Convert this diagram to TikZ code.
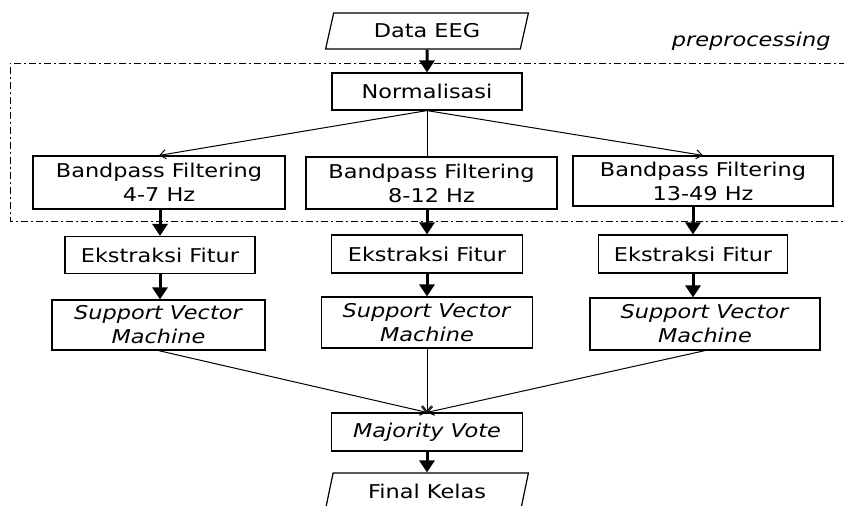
\documentclass[tikz,border=0pt]{standalone}
\usepackage{fontspec}
\setmainfont{DejaVu Sans}[FakeStretch=1.18]
\usepackage{tikz}
\usetikzlibrary{arrows.meta}
\usetikzlibrary{positioning,shapes.geometric}
\tikzset{
    box/.style={
        draw,
        rectangle,
        line width=1.2pt,
        fill=white,
        inner sep=1pt,
        align=center,
        font=\fontsize{19}{24}\selectfont
    },
    io/.style={
        draw,
        trapezium,
        trapezium left angle=74,
        trapezium right angle=106,
        trapezium stretches=true,
        line width=1.2pt,
        minimum width=203pt,
        minimum height=36pt,
        inner sep=1pt,
        font=\fontsize{19}{24}\selectfont
    },
    bigarrow/.style={
        line width=3pt,
        -{Triangle[length=12pt, width=15pt]}
    },
    thinarrow/.style={
        line width=1pt,
        -{Straight Barb[length=6pt, width=9pt]}
    }
}

\begin{document}
\begin{tikzpicture}[x=1pt, y=-1pt]
    \useasboundingbox (0,0) rectangle (844,506);

    % Preprocessing frame
    \draw[line width=1pt, dash pattern=on 7pt off 3pt on 2pt off 3pt] (846,63) -| (10,221) -- (846,221);
    \node[font=\fontsize{19}{24}\selectfont\itshape, anchor=east] (pre) at (834,41) {preprocessing};

    % Nodes
    \node[io] (data) at (427,31) {Data EEG};
    \node[box, minimum width=190pt, minimum height=37pt] (norm) at (427,91.5) {Normalisasi};

    \node[box, minimum width=252pt, minimum height=53pt] (bpA) at (159,182.5) {Bandpass Filtering\\4-7 Hz};
    \node[box, minimum width=251pt, minimum height=52pt] (bpB) at (431.5,183) {Bandpass Filtering\\8-12 Hz};
    \node[box, minimum width=260pt, minimum height=50pt] (bpC) at (703,181) {Bandpass Filtering\\13-49 Hz};

    \node[box, minimum width=190pt, minimum height=37pt] (ekA) at (160,255) {Ekstraksi Fitur};
    \node[box, minimum width=191pt, minimum height=38pt] (ekB) at (427,254) {Ekstraksi Fitur};
    \node[box, minimum width=189pt, minimum height=38pt] (ekC) at (693,254) {Ekstraksi Fitur};

    \node[box, minimum width=213pt, minimum height=50pt] (svA) at (158.5,325) {\textit{Support Vector}\\\textit{Machine}};
    \node[box, minimum width=211pt, minimum height=51pt] (svB) at (427,322.5) {\textit{Support Vector}\\\textit{Machine}};
    \node[box, minimum width=230pt, minimum height=52pt] (svC) at (705,324) {\textit{Support Vector}\\\textit{Machine}};

    \node[box, minimum width=191pt, minimum height=38pt] (vote) at (427,432) {\textit{Majority Vote}};
    \node[io] (final) at (427,491) {Final Kelas};

    % Edges
    \draw[bigarrow] (data) -- (norm);
    \draw[thinarrow] (norm.south) -- (bpA.north);
    \draw[line width=1pt] (norm.south) -- (norm.south |- bpB.north);
    \draw[thinarrow] (norm.south) -- (bpC.north);

    \draw[bigarrow] (bpA.south -| ekA.north) -- (ekA.north);
    \draw[bigarrow] (bpB.south -| ekB.north) -- (ekB.north);
    \draw[bigarrow] (bpC.south -| ekC.north) -- (ekC.north);

    \draw[bigarrow] (ekA.south) -- (ekA.south |- svA.north);
    \draw[bigarrow] (ekB.south) -- (ekB.south |- svB.north);
    \draw[bigarrow] (ekC.south) -- (ekC.south |- svC.north);

    \draw[thinarrow] (svA.south) -- (vote.north);
    \draw[thinarrow] (svB.south) -- (vote.north);
    \draw[thinarrow] (svC.south) -- (vote.north);

    \draw[bigarrow] (vote) -- (final);
\end{tikzpicture}
\end{document}
